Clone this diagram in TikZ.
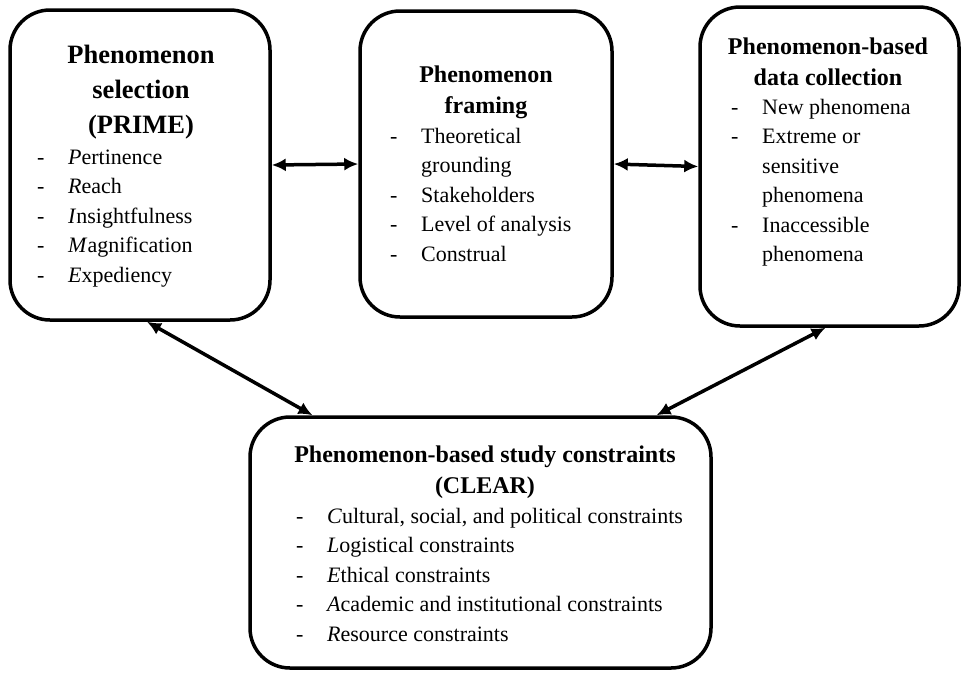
\documentclass[tikz,border=0pt]{standalone}
\usepackage{fontspec}
\setmainfont{Liberation Serif}
\usetikzlibrary{arrows.meta}

\newcommand{\dashitem}{\makebox[31pt][l]{-}}
\newcommand{\dashgap}{\hspace*{31pt}}

\begin{document}
\begin{tikzpicture}[x=1pt, y=-1pt,
  box/.style={draw, line width=3.5pt, rounded corners=40pt, inner sep=0pt},
  title/.style={anchor=base, inner sep=0pt, font=\fontsize{24}{31}\bfseries},
  items/.style={anchor=base west, inner sep=0pt, font=\fontsize{22}{29.5}\selectfont},
  link/.style={{Latex[length=14pt,width=13pt]}-{Latex[length=14pt,width=13pt]}, line width=3.5pt}]
\useasboundingbox (0,0) rectangle (963,673);

\node[box, minimum width=260pt, minimum height=310pt] (selection) at (140,165) {};
\node[title, font=\fontsize{26.5}{35}\bfseries] (selection title) at (141,63) {\begin{tabular}[t]{c}
Phenomenon \\
selection \\
(PRIME)
\end{tabular}};
\node[items] (selection items) at (37,164) {\begin{tabular}[t]{@{}l@{}}
\dashitem\textit{P}ertinence \\
\dashitem\textit{R}each \\
\dashitem\textit{I}nsightfulness \\
\dashitem\textit{M}agnification \\
\dashitem\textit{E}xpediency
\end{tabular}};

\node[box, minimum width=252pt, minimum height=306pt] (framing) at (486,164) {};
\node[title] (framing title) at (486,82) {\begin{tabular}[t]{c}
Phenomenon \\
framing
\end{tabular}};
\node[items] (framing items) at (390,143) {\begin{tabular}[t]{@{}l@{}}
\dashitem Theoretical \\
\dashgap grounding \\
\dashitem Stakeholders \\
\dashitem Level of analysis \\
\dashitem Construal
\end{tabular}};

\node[box, minimum width=259pt, minimum height=319pt] (collection) at (829.5,166.5) {};
\node[title] (collection title) at (828,54) {\begin{tabular}[t]{c}
Phenomenon-based \\
data collection
\end{tabular}};
\node[items] (collection items) at (731,114) {\begin{tabular}[t]{@{}l@{}}
\dashitem New phenomena \\
\dashitem Extreme or \\
\dashgap sensitive \\
\dashgap phenomena \\
\dashitem Inaccessible \\
\dashgap phenomena
\end{tabular}};

\node[box, minimum width=461pt, minimum height=251pt] (constraints) at (480.5,542.5) {};
\node[title] (constraints title) at (485,462) {\begin{tabular}[t]{c}
Phenomenon-based study constraints \\
(CLEAR)
\end{tabular}};
\node[items] (constraints items) at (296,523) {\begin{tabular}[t]{@{}l@{}}
\dashitem\textit{C}ultural, social, and political constraints \\
\dashitem\textit{L}ogistical constraints \\
\dashitem\textit{E}thical constraints \\
\dashitem\textit{A}cademic and institutional constraints \\
\dashitem\textit{R}esource constraints
\end{tabular}};

\draw[link] (selection.east) -- (framing.west);
\draw[link] (framing.east) -- (collection.west);
\draw[link] ([xshift=7pt]selection.south) -- ([xshift=-168pt]constraints.north);
\draw[link] ([xshift=-4pt]collection.south) -- ([xshift=176pt]constraints.north);
\end{tikzpicture}
\end{document}
